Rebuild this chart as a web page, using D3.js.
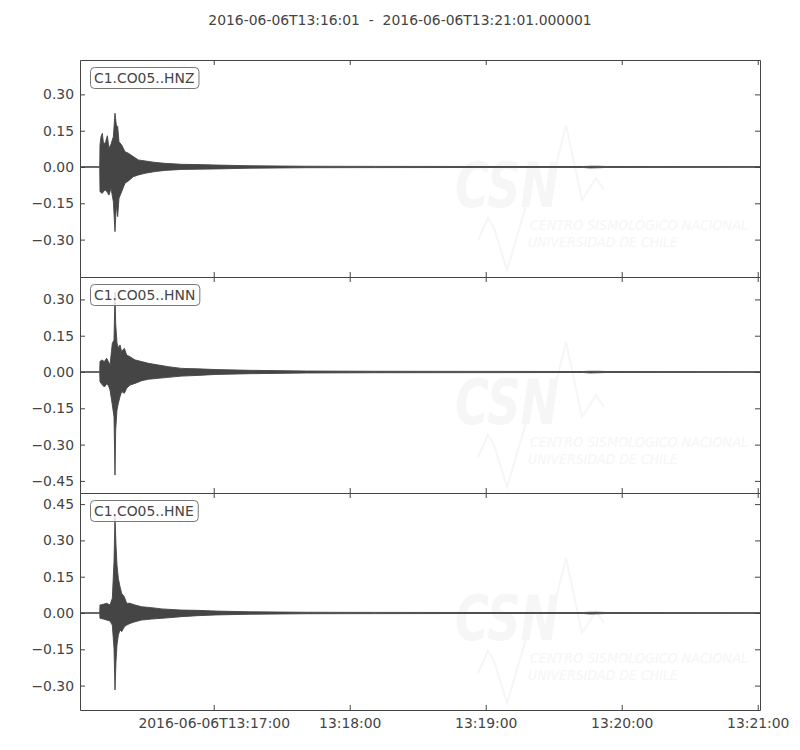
<!DOCTYPE html>
<html><head><meta charset="utf-8">
<script src="https://cdn.jsdelivr.net/npm/d3@7"></script>
<style>body{margin:0;background:#fff} text{font-family:"DejaVu Sans",sans-serif}</style>
</head><body><svg id="c" width="800" height="750"></svg>
<script>
// ---------------- data ----------------
const titleText = "2016-06-06T13:16:01  -  2016-06-06T13:21:01.000001";
const channels = ["C1.CO05..HNZ", "C1.CO05..HNN", "C1.CO05..HNE"];
// seconds after 2016-06-06T13:16:01, envelope of each trace (upper / lower)
const hnzTime  = [0, 8.7, 8.82, 9.26, 9.85, 10.44, 11.32, 12.06, 12.79, 13.68, 14.71, 15.44, 16.03, 16.62, 17.21, 18.38, 19.85, 21.32, 23.53, 25.74, 28.68, 33.09, 37.5, 44.85, 52, 60, 75, 100, 130, 180, 222, 225, 229, 232, 300];
const hnzUpper = [0.001, 0.001, 0.091, 0.125, 0.139, 0.091, 0.104, 0.129, 0.077, 0.094, 0.125, 0.222, 0.173, 0.167, 0.104, 0.091, 0.063, 0.057, 0.043, 0.029, 0.025, 0.019, 0.015, 0.011, 0.010, 0.008, 0.005, 0.003, 0.0025, 0.002, 0.002, 0.003, 0.003, 0.002, 0.0015];
const hnzLower = [-0.001, -0.001, -0.102, -0.105, -0.109, -0.100, -0.095, -0.105, -0.116, -0.088, -0.143, -0.267, -0.157, -0.205, -0.129, -0.102, -0.067, -0.058, -0.040, -0.033, -0.026, -0.019, -0.014, -0.010, -0.009, -0.008, -0.005, -0.003, -0.0025, -0.002, -0.002, -0.004, -0.003, -0.002, -0.0015];

const hnnTime  = [0, 8.7, 8.82, 9.56, 10.74, 11.76, 12.50, 13.24, 14.26, 15.0, 15.44, 15.74, 16.32, 16.91, 17.65, 18.38, 19.56, 20.59, 22.06, 24.26, 27.21, 30.15, 34.56, 38.97, 44.85, 52, 60, 75, 100, 130, 180, 222, 225, 229, 232, 300];
const hnnUpper = [0.001, 0.001, 0.043, 0.050, 0.043, 0.057, 0.043, 0.029, 0.119, 0.132, 0.330, 0.200, 0.120, 0.099, 0.112, 0.084, 0.098, 0.070, 0.063, 0.050, 0.043, 0.036, 0.029, 0.022, 0.015, 0.013, 0.010, 0.007, 0.004, 0.003, 0.0025, 0.002, 0.003, 0.003, 0.002, 0.0015];
const hnnLower = [-0.001, -0.001, -0.040, -0.050, -0.062, -0.050, -0.055, -0.074, -0.136, -0.185, -0.426, -0.240, -0.157, -0.129, -0.102, -0.081, -0.088, -0.067, -0.054, -0.047, -0.036, -0.030, -0.026, -0.022, -0.017, -0.014, -0.010, -0.007, -0.004, -0.003, -0.0025, -0.002, -0.004, -0.003, -0.002, -0.0015];

const hneTime  = [0, 8.7, 8.82, 10.29, 11.76, 13.24, 14.26, 15.0, 15.44, 15.88, 16.32, 16.91, 17.65, 18.38, 19.56, 20.59, 22.06, 24.26, 27.21, 31.62, 36.03, 44.85, 52, 60, 75, 100, 130, 180, 222, 225, 229, 232, 300];
const hneUpper = [0.001, 0.001, 0.033, 0.036, 0.040, 0.033, 0.061, 0.212, 0.400, 0.281, 0.198, 0.143, 0.109, 0.081, 0.067, 0.040, 0.040, 0.033, 0.026, 0.022, 0.017, 0.012, 0.011, 0.008, 0.005, 0.003, 0.0025, 0.002, 0.002, 0.003, 0.003, 0.002, 0.0015];
const hneLower = [-0.001, -0.001, -0.022, -0.025, -0.029, -0.033, -0.050, -0.146, -0.318, -0.201, -0.132, -0.091, -0.070, -0.077, -0.057, -0.050, -0.043, -0.036, -0.029, -0.025, -0.022, -0.015, -0.011, -0.008, -0.005, -0.003, -0.0025, -0.002, -0.002, -0.004, -0.003, -0.002, -0.0015];

const yDomains = [[-0.4545, 0.442], [-0.500, 0.3926], [-0.4008, 0.4959]];
const yTickValues = [[0.30, 0.15, 0.00, -0.15, -0.30], [0.30, 0.15, 0.00, -0.15, -0.30, -0.45], [0.45, 0.30, 0.15, 0.00, -0.15, -0.30]];
const xTickTimes = ["2016-06-06T13:17:00Z", "2016-06-06T13:18:00Z", "2016-06-06T13:19:00Z", "2016-06-06T13:20:00Z", "2016-06-06T13:21:00Z"];
const xTickLabels = ["2016-06-06T13:17:00", "13:18:00", "13:19:00", "13:20:00", "13:21:00"];
const watermarkLine1 = "CENTRO SISMOLÓGICO NACIONAL";
const watermarkLine2 = "UNIVERSIDAD DE CHILE";

// ---------------- drawing ----------------
const svg = d3.select("#c");
const left = 80, right = 760;
const panelTops = [60, 277, 493], panelBottoms = [277, 493, 710];
const startMs = Date.UTC(2016, 5, 6, 13, 16, 1);
const x = d3.scaleUtc().domain([new Date(startMs), new Date(startMs + 300000.001)]).range([left, right]);
const fg = "#444";
const traces = [[hnzTime, hnzUpper, hnzLower], [hnnTime, hnnUpper, hnnLower], [hneTime, hneUpper, hneLower]];

svg.append("text").attr("x", 400).attr("y", 25).attr("text-anchor", "middle")
  .attr("font-size", "13.9px").attr("fill", fg).style("white-space", "pre").text(titleText);

const xTicks = xTickTimes.map(s => new Date(s));

function styleAxis(g) {
  g.selectAll(".domain").attr("stroke", fg);
  g.selectAll(".tick line").attr("stroke", fg);
  g.selectAll(".tick text").attr("fill", fg).attr("font-size", "13.9px").attr("font-family", "DejaVu Sans, sans-serif");
}

channels.forEach((name, i) => {
  const top = panelTops[i], bot = panelBottoms[i];
  const y = d3.scaleLinear().domain(yDomains[i]).range([bot, top]);
  const g = svg.append("g");
  const clipId = "clip" + i;
  svg.append("clipPath").attr("id", clipId).append("rect")
    .attr("x", left).attr("y", top).attr("width", right - left).attr("height", bot - top);
  const body = g.append("g").attr("clip-path", `url(#${clipId})`);

  // very faint watermark
  const wm = body.append("g").attr("transform", `translate(0,${top})`);
  const wmc = "#f6f6f6";
  wm.append("text").attr("x", 455).attr("y", 147).attr("font-size", "62px").attr("font-weight", "bold")
    .attr("font-style", "italic").attr("font-family", "Liberation Sans, sans-serif").attr("fill", wmc)
    .attr("textLength", 104).attr("lengthAdjust", "spacingAndGlyphs").text("CSN");
  wm.append("polyline").attr("points", "546,146 566,65 582,140 596,118 604,130")
    .attr("fill", "none").attr("stroke", wmc).attr("stroke-width", 2);
  wm.append("polyline").attr("points", "478,180 488,158 494,168 507,210 526,146")
    .attr("fill", "none").attr("stroke", wmc).attr("stroke-width", 2);
  wm.append("text").attr("x", 530).attr("y", 170).attr("font-size", "14px").attr("font-style", "italic")
    .attr("font-family", "Roboto, sans-serif").attr("fill", wmc)
    .attr("textLength", 218).attr("lengthAdjust", "spacingAndGlyphs").text(watermarkLine1);
  wm.append("text").attr("x", 528).attr("y", 187).attr("font-size", "14px").attr("font-style", "italic")
    .attr("font-family", "Roboto, sans-serif").attr("fill", wmc)
    .attr("textLength", 150).attr("lengthAdjust", "spacingAndGlyphs").text(watermarkLine2);

  // waveform envelope
  const [tt, up, lo] = traces[i];
  const pts = tt.map((t, k) => ({ t: new Date(startMs + t * 1000), hi: up[k], lo: lo[k] }));
  const area = d3.area().x(d => x(d.t)).y0(d => y(d.lo)).y1(d => y(d.hi));
  body.append("path").datum(pts).attr("d", area)
    .attr("fill", "#454545").attr("stroke", "#454545").attr("stroke-width", 0.9).attr("stroke-linejoin", "round");

  // axes (ticks point inward)
  const ax = [
    g.append("g").attr("transform", `translate(${left},0)`).call(d3.axisLeft(y).tickValues(yTickValues[i]).tickSizeInner(-5).tickSizeOuter(0).tickPadding(6).tickFormat(d3.format(".2f"))),
    g.append("g").attr("transform", `translate(${right},0)`).call(d3.axisRight(y).tickValues(yTickValues[i]).tickSizeInner(-5).tickSizeOuter(0).tickFormat("")),
    g.append("g").attr("transform", `translate(0,${top})`).call(d3.axisTop(x).tickValues(xTicks).tickSizeInner(-5).tickSizeOuter(0).tickFormat("")),
    g.append("g").attr("transform", `translate(0,${bot})`).call(d3.axisBottom(x).tickValues(xTicks).tickSizeInner(-5).tickSizeOuter(0).tickPadding(8)
      .tickFormat(i === 2 ? ((d, k) => xTickLabels[k]) : ""))
  ];
  ax.forEach(styleAxis);

  // channel label box
  const lab = g.append("g").attr("transform", `translate(90,${top + 7})`);
  const txt = lab.append("text").attr("x", 4).attr("y", 16).attr("font-size", "13.9px").attr("fill", fg).text(name);
  const w = txt.node().getComputedTextLength();
  lab.insert("rect", "text").attr("x", 0.5).attr("y", 0.5).attr("width", w + 8).attr("height", 21)
    .attr("rx", 4).attr("fill", "white").attr("fill-opacity", 0.8).attr("stroke", "#777").attr("stroke-width", 1);
});
</script></body></html>
